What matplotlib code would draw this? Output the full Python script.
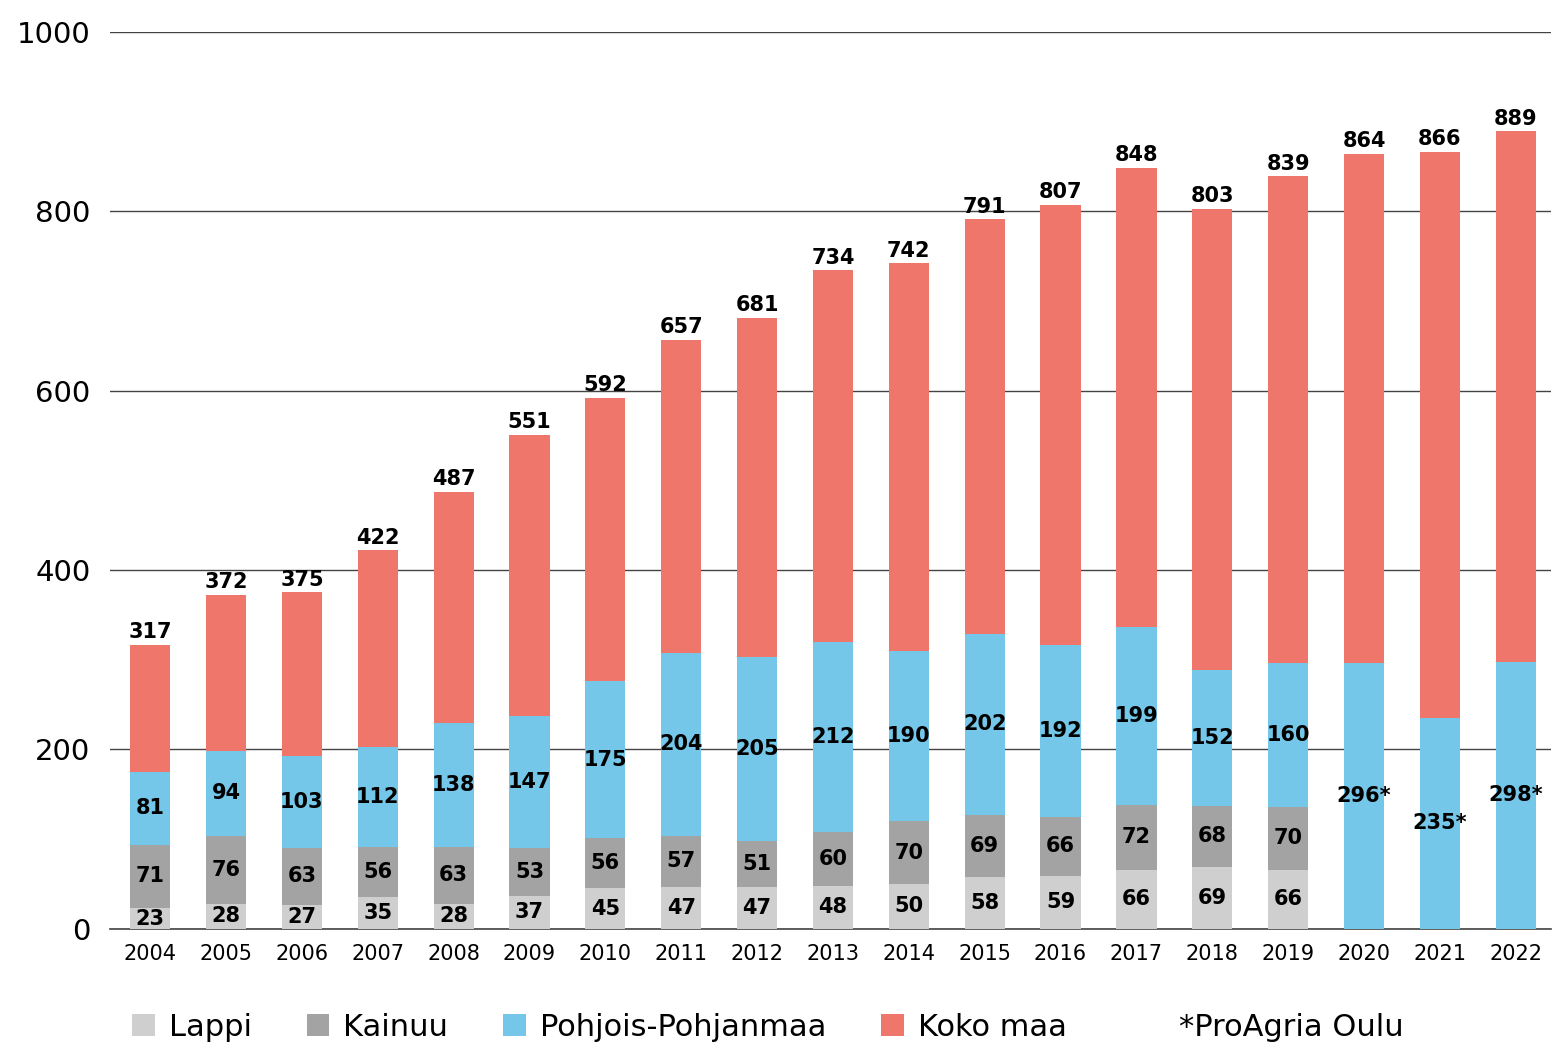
import matplotlib
matplotlib.use("Agg")
import matplotlib.pyplot as plt
import numpy as np

vuodet = [str(v) for v in range(2004, 2023)]
lappi = [23, 28, 27, 35, 28, 37, 45, 47, 47, 48, 50, 58, 59, 66, 69, 66, 0, 0, 0]
kainuu = [71, 76, 63, 56, 63, 53, 56, 57, 51, 60, 70, 69, 66, 72, 68, 70, 0, 0, 0]
pohjois = [81, 94, 103, 112, 138, 147, 175, 204, 205, 212, 190, 202, 192, 199, 152, 160, 296, 235, 298]
koko_maa = [317, 372, 375, 422, 487, 551, 592, 657, 681, 734, 742, 791, 807, 848, 803, 839, 864, 866, 889]
proagria = [False] * 16 + [True] * 3

VARIT = {"Lappi": "#cfcfcf", "Kainuu": "#a3a3a3", "Pohjois-Pohjanmaa": "#74c7e8", "Koko maa": "#ee766b"}

lappi = np.array(lappi)
kainuu = np.array(kainuu)
pohjois = np.array(pohjois)
koko_maa = np.array(koko_maa)
loput = koko_maa - lappi - kainuu - pohjois

x = np.arange(len(vuodet))
leveys = 0.53

fig = plt.figure(figsize=(15.55, 10.46), dpi=100)
ax = fig.add_axes([0.0707, 0.112, 0.927, 0.8575])

b1 = ax.bar(x, lappi, leveys, color=VARIT["Lappi"], label="Lappi", zorder=3)
b2 = ax.bar(x, kainuu, leveys, bottom=lappi, color=VARIT["Kainuu"], label="Kainuu", zorder=3)
b3 = ax.bar(x, pohjois, leveys, bottom=lappi + kainuu, color=VARIT["Pohjois-Pohjanmaa"],
            label="Pohjois-Pohjanmaa", zorder=3)
b4 = ax.bar(x, loput, leveys, bottom=lappi + kainuu + pohjois, color=VARIT["Koko maa"],
            label="Koko maa", zorder=3)

fs_arvo = 15
for i in x:
    if lappi[i] > 0:
        ax.text(i, lappi[i] / 2, str(lappi[i]), ha="center", va="center",
                fontsize=fs_arvo, fontweight="bold", zorder=4)
    if kainuu[i] > 0:
        ax.text(i, lappi[i] + kainuu[i] / 2, str(kainuu[i]), ha="center", va="center",
                fontsize=fs_arvo, fontweight="bold", zorder=4)
    teksti = str(pohjois[i]) + ("*" if proagria[i] else "")
    ax.text(i, lappi[i] + kainuu[i] + pohjois[i] / 2, teksti, ha="center", va="center",
            fontsize=fs_arvo, fontweight="bold", zorder=4)
    ax.annotate(str(koko_maa[i]), (i, koko_maa[i]), xytext=(0, 2), textcoords="offset points",
                ha="center", va="bottom", fontsize=fs_arvo, fontweight="bold", zorder=4)

ax.set_xlim(-0.53, len(vuodet) - 0.53)
ax.set_ylim(0, 1000)
ax.set_yticks(range(0, 1001, 200))
ax.set_xticks(x)
ax.set_xticklabels(vuodet, fontsize=15)
ax.tick_params(axis="y", labelsize=21, length=0, pad=14)
ax.tick_params(axis="x", length=0, pad=11)
ax.yaxis.grid(True, color="#444444", linewidth=1.0, zorder=0)
for s in ["left", "right", "top"]:
    ax.spines[s].set_visible(False)
ax.spines["bottom"].set_color("#444444")
ax.spines["bottom"].set_linewidth(1.2)

fig.legend(handles=[b1, b2, b3, b4], loc="center left", bbox_to_anchor=(0.075, 0.018),
           ncol=4, frameon=False, fontsize=22, handlelength=0.75, handleheight=0.75,
           handletextpad=0.45, columnspacing=1.8, borderpad=0.0)
fig.text(0.758, 0.018, "*ProAgria Oulu", fontsize=22, va="center")

fig.savefig("out.png", dpi=100)
